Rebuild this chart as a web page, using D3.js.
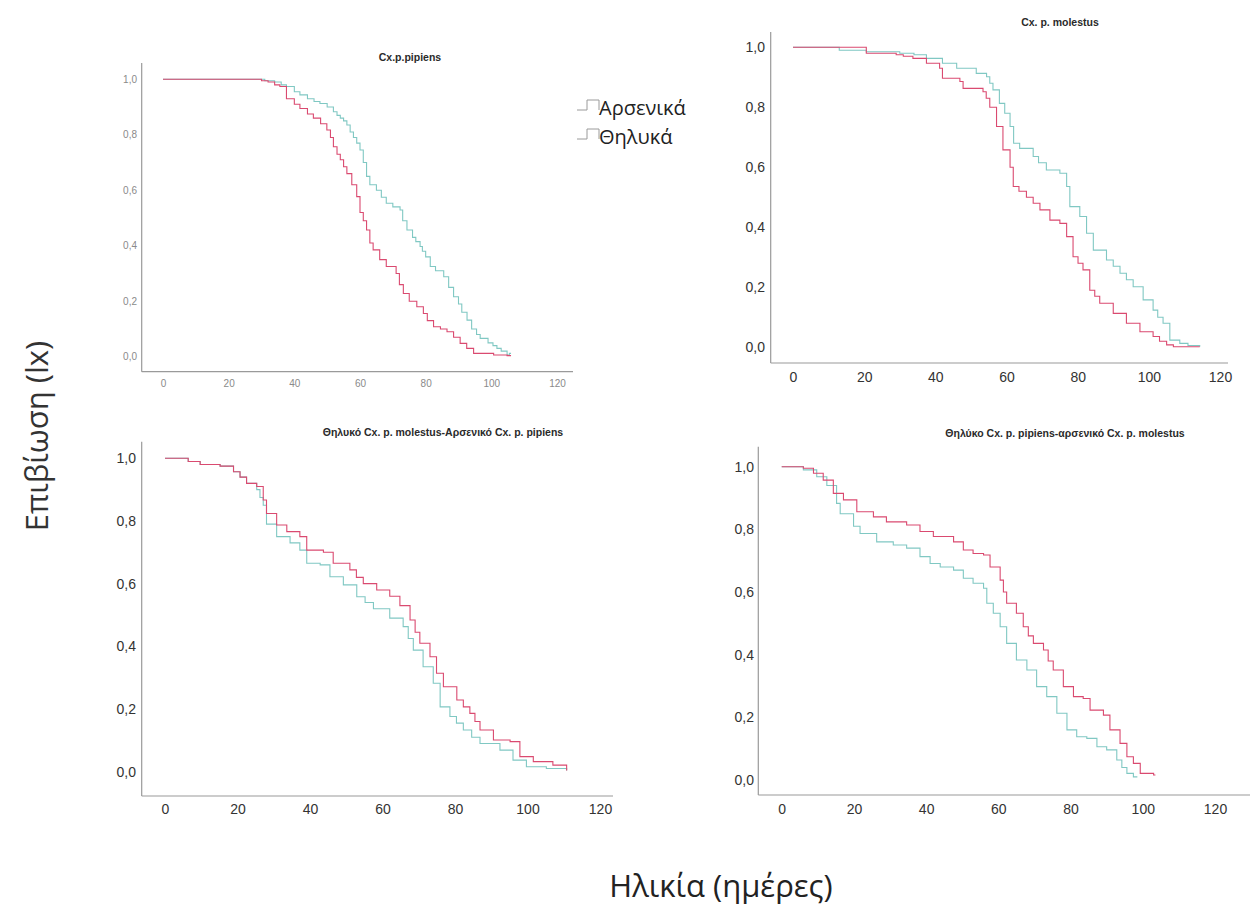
<!DOCTYPE html>
<html>
<head>
<meta charset="utf-8">
<script src="https://cdn.jsdelivr.net/npm/d3@7"></script>
<style>
  body { margin: 0; background: #fff; }
  svg { display: block; }
</style>
</head>
<body>
<div id="wrapper"></div>
<script>
// survival curves (day, lx)
var pipiensMale = [[0,1],[28,1],[31,0.995],[34,0.99],[36,0.98],[37.6,0.974],[40,0.955],[41.7,0.944],[44,0.93],[46,0.92],[47.8,0.913],[50,0.9],[51.9,0.883],[53,0.87],[54,0.86],[55,0.85],[56,0.835],[57,0.81],[58,0.79],[59,0.77],[60,0.745],[61,0.7],[62,0.65],[63,0.62],[65,0.6],[66.5,0.575],[68,0.553],[70,0.54],[72.2,0.529],[73,0.49],[74.3,0.457],[76,0.43],[77,0.415],[78.3,0.397],[79,0.38],[80,0.36],[81.4,0.325],[83,0.31],[85.5,0.288],[87,0.25],[88.5,0.216],[90,0.19],[91,0.16],[92.6,0.132],[94,0.1],[95.5,0.08],[96.6,0.066],[99,0.05],[100.5,0.04],[101.7,0.03],[103,0.02],[104.8,0.006],[105.5,0.012],[106,0.012]]
var pipiensFemale = [[0,1],[28,1],[30,0.995],[32,0.99],[34,0.98],[35.6,0.974],[37.6,0.93],[40,0.91],[41.7,0.895],[44,0.875],[45.8,0.86],[48,0.84],[49.9,0.817],[51,0.79],[51.9,0.757],[53,0.73],[54,0.71],[55,0.685],[56,0.66],[57.5,0.62],[59,0.577],[60,0.52],[61,0.49],[62,0.457],[63,0.41],[64,0.385],[66,0.35],[68,0.325],[71,0.3],[72,0.26],[73.2,0.228],[75,0.2],[77.3,0.18],[79.3,0.156],[80.5,0.13],[82.4,0.108],[84.5,0.1],[86.5,0.09],[88.5,0.07],[90.5,0.048],[92.5,0.03],[94.6,0.012],[100.7,0.006],[104.8,0.004],[106,0.004]]

var molestusMale = [[0,1],[13,0.99],[20.6,0.985],[30,0.98],[34,0.975],[37.5,0.963],[42,0.947],[46,0.93],[51.5,0.913],[54.4,0.902],[55.3,0.88],[56.2,0.858],[58,0.813],[59.5,0.78],[61,0.736],[62,0.68],[63.7,0.663],[67.5,0.636],[69,0.615],[71.2,0.591],[75,0.58],[76.9,0.536],[77.8,0.469],[80.6,0.436],[82.5,0.38],[84.4,0.324],[88.1,0.291],[90,0.27],[91.9,0.247],[93.7,0.225],[95.6,0.202],[98.4,0.158],[101.2,0.124],[102.5,0.1],[104,0.08],[105.9,0.024],[108.7,0.013],[111,0.006],[114.3,0.002]]
var molestusFemale = [[0,1],[20.6,0.98],[29,0.975],[31,0.97],[33.7,0.963],[37.5,0.947],[41.2,0.93],[42,0.897],[46.9,0.886],[47.8,0.863],[53.4,0.852],[54.3,0.83],[55.3,0.8],[57.2,0.736],[59,0.658],[61,0.6],[61.9,0.536],[63.5,0.52],[65.6,0.5],[67.5,0.48],[69.4,0.458],[72.2,0.424],[75,0.413],[76.9,0.369],[78.7,0.302],[80.1,0.28],[81.5,0.258],[83.4,0.19],[84.8,0.17],[86.2,0.147],[90,0.113],[93.7,0.08],[97.5,0.052],[101.2,0.036],[103,0.02],[105,0.008],[106.9,0.002],[114.3,0.002]]

var crossAMale = [[0,1],[6.4,0.99],[9.7,0.98],[15.2,0.975],[18.9,0.957],[20.7,0.94],[22.5,0.92],[25.3,0.9],[26.2,0.875],[27.1,0.85],[28,0.79],[30.8,0.75],[34.5,0.73],[37.2,0.707],[39.1,0.665],[42.8,0.66],[45.5,0.622],[49.2,0.596],[52.9,0.558],[55.2,0.54],[57.5,0.52],[62,0.49],[65.7,0.463],[67.1,0.425],[68.5,0.388],[71.2,0.335],[74,0.282],[75.9,0.207],[78.6,0.176],[80.4,0.155],[82.3,0.133],[84.6,0.11],[86.9,0.09],[92.4,0.069],[96,0.037],[99.7,0.016],[105.2,0.01],[110.8,0.004]]
var crossAFemale = [[0,1],[6.4,0.99],[9.7,0.98],[15.2,0.975],[18.9,0.957],[20.7,0.94],[22.5,0.92],[25.3,0.91],[27.1,0.867],[28,0.824],[30.8,0.787],[33.6,0.766],[37.2,0.75],[39.1,0.707],[43.7,0.7],[46.4,0.665],[51,0.644],[52.8,0.62],[54.7,0.6],[58.4,0.58],[62,0.56],[64.8,0.53],[67.6,0.484],[69,0.445],[70.3,0.41],[73.1,0.367],[74.9,0.314],[76.8,0.271],[80.5,0.229],[82.3,0.207],[84.1,0.186],[85.5,0.16],[86.9,0.133],[90.6,0.101],[95.2,0.096],[97.9,0.048],[101.6,0.032],[107,0.021],[110.8,0.004]]

var crossBMale = [[0,1],[6,0.99],[9.7,0.968],[12.5,0.94],[15.2,0.883],[16.2,0.85],[19.9,0.81],[21.7,0.787],[26.3,0.76],[30.9,0.75],[34.6,0.74],[38.3,0.713],[41.1,0.691],[43.9,0.68],[47.6,0.67],[50.3,0.644],[53,0.628],[55.9,0.612],[56.8,0.564],[58.6,0.532],[60.5,0.489],[62.3,0.436],[65,0.383],[67.9,0.351],[70.6,0.298],[73.4,0.266],[76.2,0.213],[79,0.16],[81.7,0.138],[84.5,0.133],[87.3,0.106],[90,0.096],[92.8,0.064],[94.2,0.04],[95.6,0.021],[97.4,0.01],[98.5,0.01]]
var crossBFemale = [[0,1],[6,0.995],[8.8,0.979],[11.5,0.957],[14.3,0.915],[17.1,0.894],[20.8,0.856],[25.4,0.84],[29,0.824],[34.6,0.814],[38.3,0.793],[42,0.777],[47.6,0.76],[50.3,0.734],[53,0.723],[55.9,0.718],[57.7,0.68],[60.5,0.638],[61.4,0.6],[62.3,0.564],[65,0.532],[66.9,0.489],[68.3,0.46],[69.7,0.436],[72.5,0.415],[73.8,0.38],[75.2,0.351],[78,0.298],[80.8,0.266],[83.5,0.26],[85.4,0.223],[89.1,0.207],[90.9,0.16],[93.7,0.117],[95.6,0.074],[97.4,0.053],[99.3,0.021],[103,0.016],[103.5,0.016]]

var titles = ["Cx.p.pipiens", "Cx. p. molestus", "Θηλυκό Cx. p. molestus-Αρσενικό Cx. p. pipiens", "Θηλύκο Cx. p. pipiens-αρσενικό Cx. p. molestus"]
var xTicks = [0, 20, 40, 60, 80, 100, 120]
var yTicks = [0, 0.2, 0.4, 0.6, 0.8, 1.0]
var legendLabels = ["Αρσενικά", "Θηλυκά"]

const maleColor = "#80c8c3"
const femaleColor = "#da4a70"

var width = 1256, height = 915

const svg = d3.select("#wrapper")
    .append("svg")
    .attr("width", width)
    .attr("height", height)

// where each little chart sits on the page (x0/x120, y0/y1 = pixel of domain ends)
var panels = [
    { male: pipiensMale, female: pipiensFemale, title: titles[0],
      x0: 163, x120: 557, y0: 356.7, y1: 79.3, axisX: 141.7, axisY: 371.7, top: 63, right: 573,
      titleX: 410, titleY: 61, font: 10, tickColor: "#8a8a8a", yLabelX: 137, xLabelY: 387 },
    { male: molestusMale, female: molestusFemale, title: titles[1],
      x0: 793, x120: 1220, y0: 347.3, y1: 47.3, axisX: 770.7, axisY: 363, top: 32, right: 1228,
      titleX: 1060, titleY: 26, font: 14, tickColor: "#333", yLabelX: 765, xLabelY: 383 },
    { male: crossAMale, female: crossAFemale, title: titles[2],
      x0: 165, x120: 600, y0: 771.7, y1: 458.3, axisX: 141.7, axisY: 796, top: 441.7, right: 613,
      titleX: 443, titleY: 436, font: 14, tickColor: "#333", yLabelX: 136, xLabelY: 815 },
    { male: crossBMale, female: crossBFemale, title: titles[3],
      x0: 781.7, x120: 1215, y0: 780, y1: 466.7, axisX: 758.3, axisY: 795, top: 446.7, right: 1250,
      titleX: 1065, titleY: 437, font: 14, tickColor: "#333", yLabelX: 754, xLabelY: 815 }
]

var fmt = d => d3.format(".1f")(d).replace(".", ",")

panels.forEach(p => {
    var xScale = d3.scaleLinear().domain([0, 120]).range([p.x0, p.x120])
    var yScale = d3.scaleLinear().domain([0, 1]).range([p.y0, p.y1])

    var g = svg.append("g")

    // axis lines
    g.append("line")
        .attr("x1", p.axisX).attr("x2", p.axisX)
        .attr("y1", p.top).attr("y2", p.axisY)
        .attr("stroke", "#9a9a9a").attr("stroke-width", 1.2)
    g.append("line")
        .attr("x1", p.axisX).attr("x2", p.right)
        .attr("y1", p.axisY).attr("y2", p.axisY)
        .attr("stroke", "#9a9a9a").attr("stroke-width", 1.2)

    var xAxis = g.append("g")
        .attr("transform", `translate(0,${p.xLabelY - p.font * 0.75})`)
        .call(d3.axisBottom(xScale).tickValues(xTicks).tickSize(0).tickPadding(0))
    var yAxis = g.append("g")
        .attr("transform", `translate(${p.yLabelX},0)`)
        .call(d3.axisLeft(yScale).tickValues(yTicks).tickFormat(fmt).tickSize(0).tickPadding(0))

    g.selectAll(".domain").remove()
    g.selectAll(".tick text")
        .attr("fill", p.tickColor)
        .style("font-family", "'Liberation Sans', Arial, sans-serif")
        .style("font-size", p.font + "px")

    var lineGenerator = d3.line()
        .x(d => xScale(d[0]))
        .y(d => yScale(d[1]))
        .curve(d3.curveStepAfter)

    g.append("path")
        .attr("d", lineGenerator(p.male))
        .attr("fill", "none")
        .attr("stroke", maleColor)
        .attr("stroke-width", 1.1)
    g.append("path")
        .attr("d", lineGenerator(p.female))
        .attr("fill", "none")
        .attr("stroke", femaleColor)
        .attr("stroke-width", 1.1)

    g.append("text")
        .attr("x", p.titleX)
        .attr("y", p.titleY)
        .attr("text-anchor", "middle")
        .style("font-family", "'Liberation Sans', Arial, sans-serif")
        .style("font-weight", "bold")
        .style("font-size", "10.5px")
        .attr("fill", "#2a2a2a")
        .text(p.title)
})

// legend
var legend = svg.append("g")
legendLabels.forEach((label, i) => {
    var y = 115 + i * 29
    legend.append("path")
        .attr("d", `M577,${y - 5}H587V${y - 15}H599V${y - 5}`)
        .attr("fill", "none")
        .attr("stroke", "#9a9a9a")
        .attr("stroke-width", 1)
    legend.append("text")
        .attr("x", 599)
        .attr("y", y)
        .style("font-family", "'Open Sans', sans-serif")
        .style("font-size", "20px")
        .attr("fill", "#222")
        .text(label)
})

// shared axis titles
svg.append("text")
    .attr("transform", "translate(48,436) rotate(-90)")
    .attr("text-anchor", "middle")
    .style("font-family", "'Open Sans', sans-serif")
    .style("font-size", "31px")
    .attr("fill", "#333")
    .text("Επιβίωση (lx)")

svg.append("text")
    .attr("x", 721)
    .attr("y", 897)
    .attr("text-anchor", "middle")
    .style("font-family", "'Open Sans', sans-serif")
    .style("font-size", "31px")
    .attr("fill", "#222")
    .text("Ηλικία (ημέρες)")
</script>
</body>
</html>
